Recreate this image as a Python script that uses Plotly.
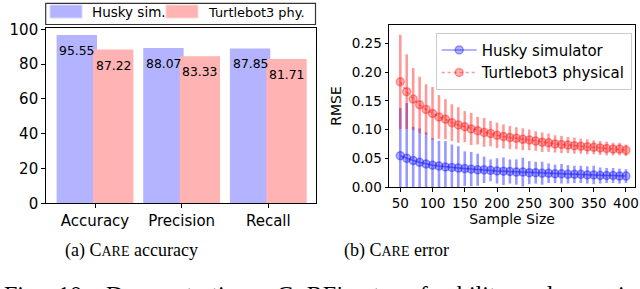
import plotly.graph_objects as go

# ---------------- data ----------------
categories = ["Accuracy", "Precision", "Recall"]
cat_pos = [0, 1, 2]
husky_bar = [95.55, 88.07, 87.85]
turtle_bar = [87.22, 83.33, 81.71]
bar_names = ["Husky sim.", "Turtlebot3 phy."]

samples = [50, 60, 70, 80, 90, 100, 110, 120, 130, 140, 150, 160, 170, 180,
           190, 200, 210, 220, 230, 240, 250, 260, 270, 280, 290, 300, 310,
           320, 330, 340, 350, 360, 370, 380, 390, 400]
husky_rmse = [0.0545, 0.050, 0.046, 0.043, 0.040, 0.038, 0.0365, 0.035, 0.034,
              0.033, 0.032, 0.031, 0.030, 0.030, 0.029, 0.028, 0.0275, 0.027,
              0.026, 0.026, 0.025, 0.025, 0.024, 0.024, 0.023, 0.023, 0.022,
              0.022, 0.022, 0.021, 0.021, 0.020, 0.020, 0.020, 0.019, 0.019]
husky_err = [0.083, 0.096, 0.059, 0.059, 0.055, 0.047, 0.044, 0.045, 0.040,
             0.038, 0.030, 0.030, 0.028, 0.023, 0.019, 0.022, 0.024, 0.021,
             0.022, 0.025, 0.020, 0.019, 0.020, 0.017, 0.016, 0.017, 0.016,
             0.015, 0.015, 0.015, 0.016, 0.014, 0.013, 0.013, 0.013, 0.012]
turtle_rmse = [0.183, 0.166, 0.153, 0.143, 0.135, 0.128, 0.122, 0.118, 0.112,
               0.108, 0.105, 0.101, 0.098, 0.095, 0.093, 0.090, 0.088, 0.086,
               0.085, 0.083, 0.082, 0.080, 0.078, 0.077, 0.075, 0.074, 0.073,
               0.072, 0.071, 0.070, 0.069, 0.068, 0.067, 0.066, 0.066, 0.064]
turtle_err = [0.082, 0.065, 0.054, 0.049, 0.044, 0.046, 0.038, 0.035, 0.032,
              0.031, 0.027, 0.028, 0.024, 0.025, 0.022, 0.022, 0.021, 0.020,
              0.019, 0.019, 0.018, 0.017, 0.017, 0.016, 0.015, 0.015, 0.014,
              0.014, 0.013, 0.013, 0.012, 0.012, 0.012, 0.011, 0.011, 0.010]

y_ticks_right = [0.0, 0.05, 0.10, 0.15, 0.20, 0.25]
x_ticks_right = [50, 100, 150, 200, 250, 300, 350, 400]

BLUE_FILL = "#b3b3ff"
RED_FILL = "#ffb3b3"
FONT = "DejaVu Sans"
SERIF = "Liberation Serif"
W, H = 640, 289


def px(x):
    return x / W


def py(y):
    return 1 - y / H


fig = go.Figure()

# ---------------- left: bars ----------------
fig.add_trace(go.Bar(x=cat_pos, y=husky_bar, name=bar_names[0], showlegend=False,
                     marker=dict(color=BLUE_FILL, line=dict(color=BLUE_FILL, width=4)),
                     xaxis="x", yaxis="y"))
fig.add_trace(go.Bar(x=cat_pos, y=turtle_bar, name=bar_names[1], showlegend=False,
                     marker=dict(color=RED_FILL, line=dict(color=RED_FILL, width=4)),
                     xaxis="x", yaxis="y"))

annotations = []
for c, hv, tv in zip(cat_pos, husky_bar, turtle_bar):
    annotations.append(dict(x=c - 0.21, y=hv, xref="x", yref="y", text=f"{hv:.2f}",
                            showarrow=False, yanchor="middle", yshift=-13.5,
                            font=dict(family=FONT, size=12.4, color="black")))
    annotations.append(dict(x=c + 0.21, y=tv, xref="x", yref="y", text=f"{tv:.2f}",
                            showarrow=False, yanchor="middle", yshift=-13.5,
                            font=dict(family=FONT, size=12.4, color="black")))

# legend of the bar panel (drawn as a framed box)
shapes = [
    dict(type="rect", xref="paper", yref="paper", x0=px(45.7), x1=px(315.5),
         y0=py(24.5), y1=py(3.3), line=dict(color="#333333", width=1.2),
         fillcolor="white", layer="above"),
    dict(type="rect", xref="paper", yref="paper", x0=px(50), x1=px(82),
         y0=py(18), y1=py(5), line=dict(color="#d6d6ff", width=1),
         fillcolor=BLUE_FILL, layer="above"),
    dict(type="rect", xref="paper", yref="paper", x0=px(166), x1=px(198),
         y0=py(18), y1=py(5), line=dict(color="#ffd6d6", width=1),
         fillcolor=RED_FILL, layer="above"),
]
annotations.append(dict(x=px(90), y=py(12.5), xref="paper", yref="paper",
                        text=bar_names[0], showarrow=False, xanchor="left",
                        yanchor="middle", font=dict(family=FONT, size=13.5, color="black")))
annotations.append(dict(x=px(206), y=py(12.5), xref="paper", yref="paper",
                        text=bar_names[1], showarrow=False, xanchor="left",
                        yanchor="middle", font=dict(family=FONT, size=12.9, color="black")))

# ---------------- right: RMSE ----------------
fig.add_trace(go.Scatter(x=samples, y=husky_rmse, name="Husky simulator",
                         mode="lines+markers",
                         line=dict(color="rgba(0,0,255,0.4)", width=1.5),
                         marker=dict(size=8, color="rgba(0,0,255,0.3)",
                                     line=dict(color="rgba(0,0,255,0.35)", width=1.5)),
                         error_y=dict(type="data", array=husky_err, visible=True,
                                      color="rgba(0,0,255,0.4)", thickness=2.6, width=0),
                         xaxis="x2", yaxis="y2"))
fig.add_trace(go.Scatter(x=samples, y=turtle_rmse, name="Turtlebot3 physical",
                         mode="lines+markers",
                         line=dict(color="rgba(255,0,0,0.4)", width=1.5, dash="dot"),
                         marker=dict(size=8, color="rgba(255,0,0,0.3)",
                                     line=dict(color="rgba(255,0,0,0.35)", width=1.5)),
                         error_y=dict(type="data", array=turtle_err, visible=True,
                                      color="rgba(255,0,0,0.4)", thickness=2.6, width=0),
                         xaxis="x2", yaxis="y2"))

# ---------------- captions ----------------
small = "<span style='font-size:14px'>"
annotations.append(dict(x=px(131), y=py(250), xref="paper", yref="paper",
                        text=f"(a) C{small}ARE</span> accuracy", showarrow=False,
                        xanchor="center", yanchor="middle",
                        font=dict(family=SERIF, size=18, color="black")))
annotations.append(dict(x=px(396), y=py(250), xref="paper", yref="paper",
                        text=f"(b) C{small}ARE</span> error", showarrow=False,
                        xanchor="center", yanchor="middle",
                        font=dict(family=SERIF, size=18, color="black")))
small2 = "<span style='font-size:19px'>"
caption_words = [("Fig.", 2), ("10:", 56), ("Demonstrating", 104),
                 (f"C{small2}A</span>RE's", 275), ("transferability", 371),
                 ("and", 516), ("error", 562), ("in", 616)]
for w, xp in caption_words:
    annotations.append(dict(x=px(xp), y=py(294), xref="paper", yref="paper",
                            text=w, showarrow=False, xanchor="left", yanchor="middle",
                            font=dict(family=SERIF, size=24, color="black")))

axis_common = dict(showline=True, linecolor="black", linewidth=1, mirror=True,
                   ticks="outside", ticklen=3.5, tickcolor="black", showgrid=False,
                   zeroline=False, automargin=False)

fig.update_layout(
    width=W, height=H,
    margin=dict(l=0, r=0, t=0, b=0, autoexpand=False),
    paper_bgcolor="white", plot_bgcolor="white",
    barmode="group", bargap=0.16,
    showlegend=True,
    xaxis=dict(domain=[px(45.7), px(315.7)], range=[-0.569, 2.547],
               tickvals=cat_pos, ticktext=categories,
               tickfont=dict(family=FONT, size=15, color="black"), anchor="y",
               **axis_common),
    yaxis=dict(domain=[py(203.3), py(28.3)], range=[0, 100.57],
               tickvals=[0, 20, 40, 60, 80, 100],
               tickfont=dict(family=FONT, size=15, color="black"), anchor="x",
               **axis_common),
    xaxis2=dict(domain=[px(389), px(635)], range=[32.5, 414],
                tickvals=x_ticks_right,
                tickfont=dict(family=FONT, size=13.5, color="black"), anchor="y2",
                title=dict(text="Sample Size", font=dict(family=FONT, size=14, color="black"),
                           standoff=4),
                **axis_common),
    yaxis2=dict(domain=[py(187), py(25)], range=[0, 0.282],
                tickvals=y_ticks_right, tickformat=".2f",
                tickfont=dict(family=FONT, size=13.5, color="black"), anchor="x2",
                title=dict(text="RMSE", font=dict(family=FONT, size=14, color="black"),
                           standoff=6),
                **axis_common),
    legend=dict(x=px(435.7), y=py(32.7), xanchor="left", yanchor="top",
                bordercolor="#cccccc", borderwidth=1, bgcolor="rgba(255,255,255,0.8)",
                font=dict(family=FONT, size=15, color="black"), itemwidth=35,
                tracegroupgap=0),
    shapes=shapes,
    annotations=annotations,
)

fig.write_html("out.html", config={"displayModeBar": False},
               post_script="document.body.style.margin='0';document.body.style.overflow='hidden';")
